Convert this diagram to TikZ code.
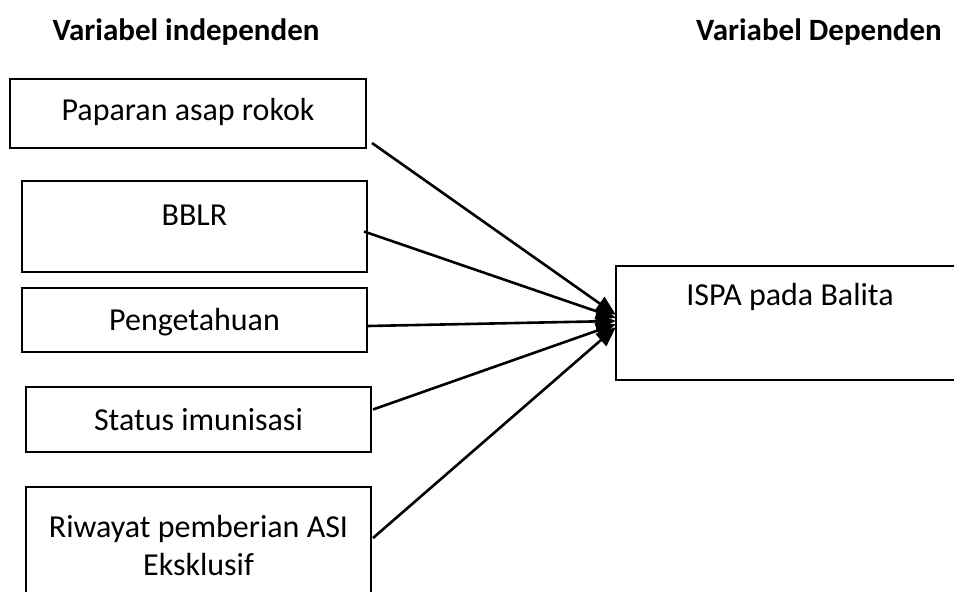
\documentclass[tikz,border=0pt]{standalone}
\usepackage{fontspec}
\setmainfont{Carlito}
\usetikzlibrary{arrows.meta,calc}
\tikzset{
  box/.style={draw=black,line width=2pt,rectangle,inner sep=0pt},
  txt/.style={inner sep=0pt,font=\fontsize{32}{38}\selectfont,align=center},
  head/.style={inner sep=0pt,font=\fontsize{31}{36}\selectfont\bfseries},
  arr/.style={line width=2.6pt,-{Triangle[length=20pt,width=16pt]}}
}
\begin{document}
\begin{tikzpicture}[x=1pt,y=-1pt]
\useasboundingbox (0,0) rectangle (954,592);
\clip (0,0) rectangle (954,592);
\node[head] (h1) at (186,32) {Variabel independen};
\node[head,anchor=east] (h2) at (942,32) {Variabel Dependen};
\node[box,minimum width=356pt,minimum height=69pt] (b1) at (188,113.5) {};
\node[txt] (t1) at (188,112) {Paparan asap rokok};
\node[box,minimum width=345pt,minimum height=91pt] (b2) at (194.5,226.5) {};
\node[txt] (t2) at (194.5,215) {BBLR};
\node[box,minimum width=345pt,minimum height=64pt] (b3) at (194.5,320) {};
\node[txt] (t3) at (194.5,322) {Pengetahuan};
\node[box,minimum width=345pt,minimum height=65pt] (b4) at (198.5,419.5) {};
\node[txt] (t4) at (198.5,420) {Status imunisasi};
\node[box,minimum width=345pt,minimum height=140pt] (b5) at (198.5,557) {};
\node[txt] (t5) at (198.5,546) {Riwayat pemberian ASI\\Eksklusif};
\node[box,minimum width=400pt,minimum height=114pt] (isp) at (816,323) {};
\node[txt] (t6) at (790,297) {ISPA pada Balita};
\coordinate (e1) at ($(isp.west)+(1,-8)$);
\coordinate (e2) at ($(isp.west)+(1,-5)$);
\coordinate (e3) at ($(isp.west)+(1,-2)$);
\coordinate (e4) at ($(isp.west)+(1,1)$);
\coordinate (e5) at ($(isp.west)+(1,4)$);
\draw[arr] ($(b1.south east)+(5,-6)$) -- (e1);
\draw[arr] ($(b2.east)+(-4,5)$) -- (e2);
\draw[arr] ($(b3.east)+(0,6)$) -- (e3);
\draw[arr] ($(b4.east)+(1,-10)$) -- (e4);
\draw[arr] ($(b5.north east)+(1,52)$) -- (e5);
\end{tikzpicture}
\end{document}
